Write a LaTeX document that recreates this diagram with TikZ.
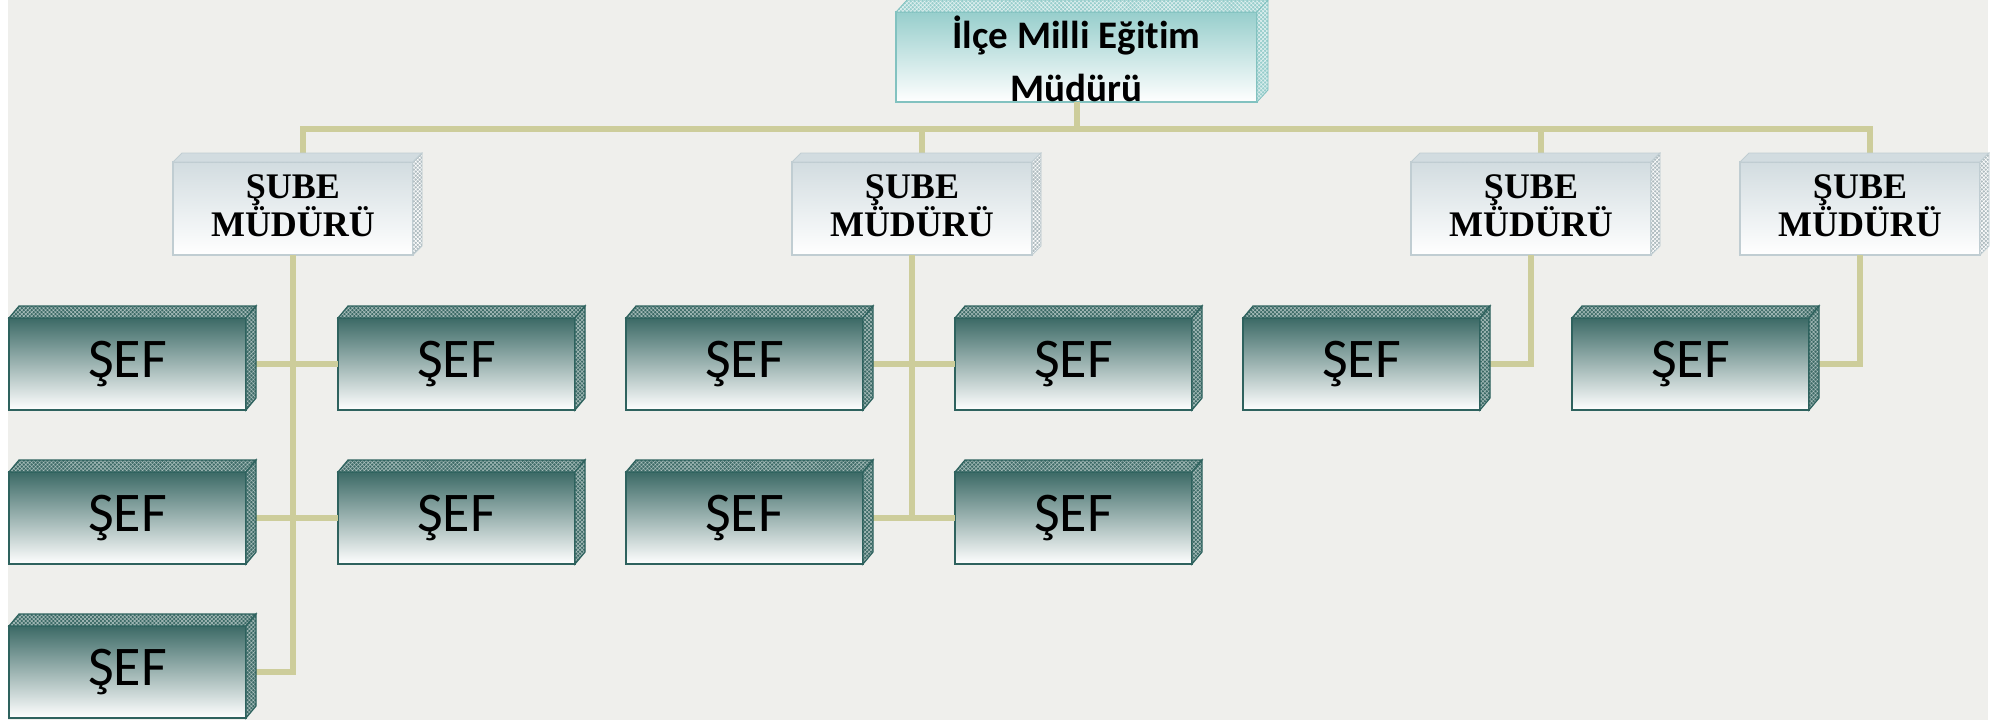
\documentclass[tikz,border=0pt]{standalone}
\usepackage{fontspec}
\setmainfont{Liberation Serif}
\newfontfamily\carlito[Ligatures=NoCommon]{Carlito}
\usepackage{xcolor}
\usepackage{tikz}
\usetikzlibrary{positioning,patterns.meta}

\definecolor{paper}{HTML}{EFEFEC}
\definecolor{conncol}{HTML}{CDCD9B}
\definecolor{sefdark}{HTML}{3C6A66}
\definecolor{sefline}{HTML}{2E625E}
\definecolor{subelight}{HTML}{D2DCE0}
\definecolor{subeline}{HTML}{C0CDD2}
\definecolor{subegrey}{HTML}{AEBBBF}
\definecolor{headteal}{HTML}{97CECC}
\definecolor{headline}{HTML}{82C2C0}

\begin{document}
\begin{tikzpicture}[x=0.5pt,y=-0.5pt,
  sefbox/.style={rectangle, draw=sefline, line width=0.8pt, top color=sefdark, bottom color=white, minimum width=118.5pt, minimum height=46pt, inner sep=0pt, outer sep=0pt, font=\carlito\fontsize{28}{30}\selectfont},
  subebox/.style={rectangle, draw=subeline, line width=0.6pt, top color=subelight, bottom color=white, minimum width=120pt, minimum height=46.5pt, inner sep=0pt, outer sep=0pt, align=center, text depth=3pt, font=\bfseries\fontsize{18}{19}\selectfont},
  headbox/.style={rectangle, draw=headline, line width=0.6pt, top color=headteal, bottom color=white, minimum width=180.5pt, minimum height=45pt, inner xsep=0pt, inner ysep=0.5pt, outer sep=0pt, align=center, text height=44pt, text depth=0pt, font=\carlito\bfseries\fontsize{19.5}{26.5}\selectfont},
  conn/.style={draw=conncol, line width=3pt},
  sefface/.style={draw=sefline, line width=0.6pt, preaction={fill=sefdark}, pattern={Hatch[distance=1.4pt,angle=45,line width=0.3pt]}, pattern color=sefdark!45!white},
  subeface/.style={draw=subeline, line width=0.4pt, preaction={fill=subegrey}, pattern={Hatch[distance=1.4pt,angle=45,line width=0.3pt]}, pattern color=white},
  headface/.style={draw=headline, line width=0.4pt, preaction={fill=headteal}, pattern={Hatch[distance=1.4pt,angle=45,line width=0.3pt]}, pattern color=white!70!headteal}
  ]
  \useasboundingbox (0,0) rectangle (2015,720);
  \fill[paper] (8,0) rectangle (1988,720);

  % top
  \node[headbox] (head) at (1076.5,57) {İlçe Milli Eğitim\\Müdürü};

  % sube mudurleri
  \node[subebox] (sb1) at (293,208.5) {ŞUBE\\MÜDÜRÜ};
  \node[subebox] (sb2) at (912,208.5) {ŞUBE\\MÜDÜRÜ};
  \node[subebox] (sb3) at (1531,208.5) {ŞUBE\\MÜDÜRÜ};
  \node[subebox] (sb4) at (1860,208.5) {ŞUBE\\MÜDÜRÜ};

  % sefler
  \node[sefbox] (sef11) at (127.5,364) {ŞEF};
  \node[sefbox, right=46pt of sef11] (sef12) {ŞEF};
  \node[sefbox, right=25.5pt of sef12] (sef13) {ŞEF};
  \node[sefbox, right=46pt of sef13] (sef14) {ŞEF};
  \node[sefbox, right=25.5pt of sef14] (sef15) {ŞEF};
  \node[sefbox, right=46pt of sef15] (sef16) {ŞEF};
  \node[sefbox, below=31pt of sef11] (sef21) {ŞEF};
  \node[sefbox, below=31pt of sef12] (sef22) {ŞEF};
  \node[sefbox, below=31pt of sef13] (sef23) {ŞEF};
  \node[sefbox, below=31pt of sef14] (sef24) {ŞEF};
  \node[sefbox, below=31pt of sef21] (sef31) {ŞEF};

  % connectors
  \coordinate[below=13.5pt of head.south] (bus);
  \draw[conn] (head.south) -- (bus);
  \draw[conn] ([xshift=5pt]sb1.north) |- (bus) -| ([xshift=5pt]sb4.north);
  \draw[conn] ([xshift=5pt]sb2.north) -- ([xshift=5pt]sb2.north |- bus);
  \draw[conn] ([xshift=5pt]sb3.north) -- ([xshift=5pt]sb3.north |- bus);
  \draw[conn] (sef11.east) -- (sef12.west);
  \draw[conn] (sef21.east) -- (sef22.west);
  \draw[conn] (sef31.east) -| (sb1.south);
  \draw[conn] (sef13.east) -- (sef14.west);
  \draw[conn] (sef23.east) -- (sef24.west);
  \draw[conn] (sb2.south) |- (sef24.west);
  \draw[conn] (sb3.south) |- (sef15.east);
  \draw[conn] (sb4.south) |- (sef16.east);

  % 3d edges
  \foreach \n in {sef11,sef12,sef13,sef14,sef15,sef16,sef21,sef22,sef23,sef24,sef31} {
    \draw[sefface] (\n.north west) -- ++(10,-12) -- ([shift={(10,-12)}]\n.north east) -- (\n.north east) -- cycle;
    \draw[sefface] (\n.north east) -- ++(10,-12) -- ([shift={(10,-12)}]\n.south east) -- (\n.south east) -- cycle;
  }
  \foreach \n in {sb1,sb2,sb3,sb4} {
    \draw[subeface, preaction={fill=subelight}, pattern color=subelight] (\n.north west) -- ++(9,-9) -- ([shift={(9,-9)}]\n.north east) -- (\n.north east) -- cycle;
    \draw[subeface] (\n.north east) -- ++(9,-9) -- ([shift={(9,-9)}]\n.south east) -- (\n.south east) -- cycle;
  }
  \draw[headface] (head.north west) -- ++(11,-12) -- ([shift={(11,-12)}]head.north east) -- (head.north east) -- cycle;
  \draw[headface] (head.north east) -- ++(11,-12) -- ([shift={(11,-12)}]head.south east) -- (head.south east) -- cycle;
\end{tikzpicture}
\end{document}
